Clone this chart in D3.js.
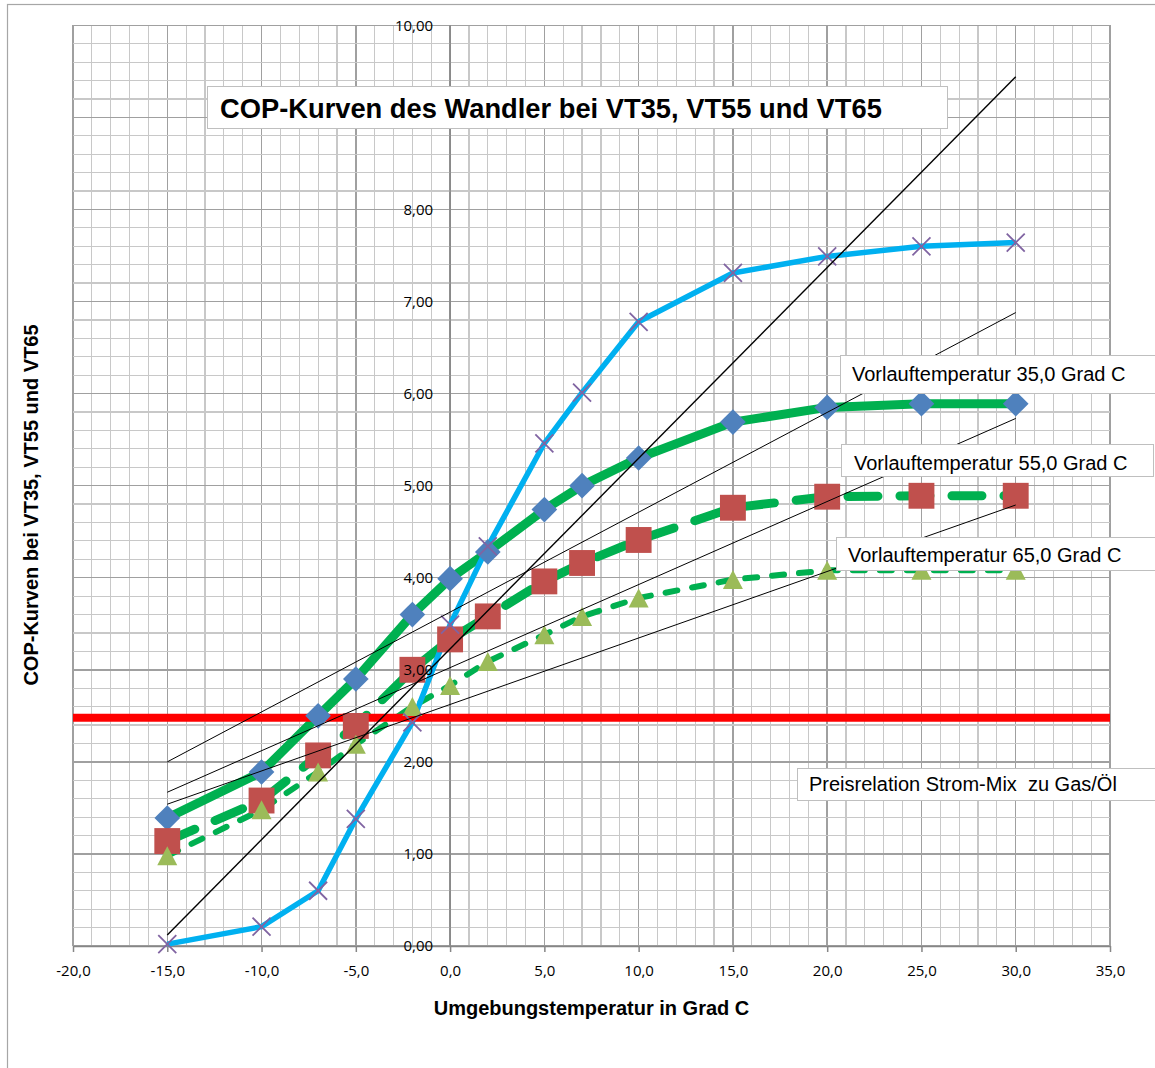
<!DOCTYPE html>
<meta charset="utf-8">
<style>

body {
  margin: 0;
  background: #fff;
}

.box {
  fill: #fff;
  stroke: #bfbfbf;
  stroke-width: 1px;
}

.boxtext {
  font-family: "Liberation Sans", Arial, sans-serif;
  font-size: 20px;
  fill: #000;
  white-space: pre;
}

.axistitle {
  font-family: "Liberation Sans", Arial, sans-serif;
  font-size: 20px;
  font-weight: bold;
}

</style>
<body>
<script src="https://d3js.org/d3.v7.min.js"></script>
<script>

// Umgebungstemperatur (x) und COP-Werte je Kurve
var temps   = [-15, -10, -7, -5, -2, 0, 2, 5, 7, 10, 15, 20, 25, 30];
var copVT35 = [1.39, 1.89, 2.50, 2.90, 3.60, 3.99, 4.28, 4.74, 5.00, 5.30, 5.69, 5.85, 5.89, 5.89];
var copVT55 = [1.14, 1.58, 2.07, 2.39, 3.00, 3.33, 3.58, 3.96, 4.16, 4.41, 4.76, 4.88, 4.89, 4.89];
var copVT65 = [0.98, 1.48, 1.89, 2.19, 2.60, 2.83, 3.09, 3.38, 3.58, 3.78, 3.98, 4.08, 4.08, 4.08];
var copWandler = [0.02, 0.21, 0.60, 1.38, 2.43, 3.49, 4.34, 5.46, 6.01, 6.78, 7.31, 7.49, 7.60, 7.64];

// schwarze Hilfsgeraden, jeweils Wert bei -15 und bei 30 Grad
var trendX = [-15, 30];
var trend1 = [0.12, 9.44];
var trend2 = [2.00, 6.88];
var trend3 = [1.67, 5.73];
var trend4 = [1.54, 4.79];

// Preisrelation (rote Linie)
var preisX = [-20, 35];
var preisRelation = [2.48, 2.48];

var xTicks = [-20, -15, -10, -5, 0, 5, 10, 15, 20, 25, 30, 35];
var yTicks = [0, 1, 2, 3, 4, 5, 6, 7, 8, 10];   // 9,00 liegt unter dem Titelkasten

var chartTitle = "COP-Kurven des Wandler bei VT35, VT55 und VT65";
var xTitle = "Umgebungstemperatur in Grad C";
var yTitle = "COP-Kurven bei VT35, VT55 und VT65";
var labelTexts = ["Vorlauftemperatur 35,0 Grad C",
                  "Vorlauftemperatur 55,0 Grad C",
                  "Vorlauftemperatur 65,0 Grad C",
                  "Preisrelation Strom-Mix  zu Gas/Öl"];

var de = d3.formatLocale({decimal: ",", thousands: ".", grouping: [3], currency: ["", " €"], minus: "-"});
var fmtX = de.format(".1f"),
    fmtY = de.format(".2f");

var width = 1155, height = 1068;

var x = d3.scaleLinear().domain([-20, 35]).range([73, 1110]);
var y = d3.scaleLinear().domain([0, 10]).range([946, 25.3]);

var svg = d3.select("body").append("svg")
    .attr("width", width)
    .attr("height", height);

// Rahmen des Diagrammbereichs
svg.append("rect")
    .attr("x", 7.5).attr("y", 4.5)
    .attr("width", 1170).attr("height", 1080)
    .attr("fill", "#fff")
    .attr("stroke", "#a6a6a6")
    .attr("stroke-width", 1.2);

// Gitternetz
var grid = svg.append("g").attr("shape-rendering", "crispEdges");

grid.selectAll(".vminor")
    .data(d3.range(-20, 36, 1))
  .enter().append("line")
    .attr("x1", function(d) { return x(d); })
    .attr("x2", function(d) { return x(d); })
    .attr("y1", y(0))
    .attr("y2", y(10))
    .attr("stroke", function(d) { return d % 5 === 0 ? "#a0a0a0" : "#c8c8c8"; })
    .attr("stroke-width", function(d) { return d % 5 === 0 ? 1.5 : 1.2; });

grid.selectAll(".hminor")
    .data(d3.range(0, 51, 1))
  .enter().append("line")
    .attr("x1", x(-20))
    .attr("x2", x(35))
    .attr("y1", function(i) { return y(i / 5); })
    .attr("y2", function(i) { return y(i / 5); })
    .attr("stroke", function(i) { return i % 5 === 0 ? "#a0a0a0" : "#c8c8c8"; })
    .attr("stroke-width", function(i) { return i % 5 === 0 ? 1.5 : 1.2; });

// Achsenlinien
svg.append("line")
    .attr("x1", x(0)).attr("x2", x(0))
    .attr("y1", y(0)).attr("y2", y(10))
    .attr("stroke", "#868686")
    .attr("stroke-width", 1.5);

var xAxis = svg.append("g")
    .attr("transform", "translate(0," + y(0) + ")")
    .call(d3.axisBottom(x)
      .tickValues(xTicks)
      .tickSize(6)
      .tickSizeOuter(0)
      .tickPadding(13)
      .tickFormat(fmtX));

xAxis.select(".domain").attr("stroke", "#868686").attr("stroke-width", 1.5);
xAxis.selectAll(".tick line").attr("stroke", "#868686").attr("stroke-width", 1.5);
xAxis.selectAll(".tick text")
    .attr("font-family", "Open Sans, Liberation Sans, sans-serif")
    .attr("font-size", 15)
    .attr("fill", "#000");

// Kurven
var line = d3.line()
    .x(function(d) { return x(d[0]); })
    .y(function(d) { return y(d[1]); });

function pairs(values) {
  return temps.map(function(t, i) { return [t, values[i]]; });
}

svg.append("path")
    .datum(pairs(copVT65))
    .attr("d", line)
    .attr("fill", "none")
    .attr("stroke", "#00b050")
    .attr("stroke-width", 6)
    .attr("stroke-linecap", "round")
    .attr("stroke-dasharray", "12,15");

svg.append("path")
    .datum(pairs(copVT55))
    .attr("d", line)
    .attr("fill", "none")
    .attr("stroke", "#00b050")
    .attr("stroke-width", 9)
    .attr("stroke-linecap", "round")
    .attr("stroke-dasharray", "30,22");

svg.append("path")
    .datum(pairs(copVT35))
    .attr("d", line)
    .attr("fill", "none")
    .attr("stroke", "#00b050")
    .attr("stroke-width", 9)
    .attr("stroke-linejoin", "round");

svg.append("path")
    .datum(pairs(copWandler))
    .attr("d", line)
    .attr("fill", "none")
    .attr("stroke", "#00b0f0")
    .attr("stroke-width", 5.5)
    .attr("stroke-linejoin", "round");

// rote Preislinie
svg.append("path")
    .datum(preisX.map(function(t, i) { return [t, preisRelation[i]]; }))
    .attr("d", line)
    .attr("stroke", "#ff0000")
    .attr("stroke-width", 8);

// Marker
svg.append("g").selectAll("path")
    .data(pairs(copVT35))
  .enter().append("path")
    .attr("transform", function(d) { return "translate(" + x(d[0]) + "," + y(d[1]) + ") rotate(45)"; })
    .attr("d", d3.symbol().type(d3.symbolSquare).size(330))
    .attr("fill", "#4f81bd");

svg.append("g").selectAll("path")
    .data(pairs(copVT55))
  .enter().append("path")
    .attr("transform", function(d) { return "translate(" + x(d[0]) + "," + y(d[1]) + ")"; })
    .attr("d", d3.symbol().type(d3.symbolSquare).size(670))
    .attr("fill", "#c0504d");

svg.append("g").selectAll("path")
    .data(pairs(copVT65))
  .enter().append("path")
    .attr("transform", function(d) { return "translate(" + x(d[0]) + "," + y(d[1]) + ")"; })
    .attr("d", "M0,-9.5L10,9.5L-10,9.5Z")
    .attr("fill", "#9bbb59");

svg.append("g").selectAll("path")
    .data(pairs(copWandler))
  .enter().append("path")
    .attr("transform", function(d) { return "translate(" + x(d[0]) + "," + y(d[1]) + ")"; })
    .attr("d", "M-9,-9L9,9M-9,9L9,-9")
    .attr("fill", "none")
    .attr("stroke", "#8064a2")
    .attr("stroke-width", 1.8);

// Hilfsgeraden
[trend1, trend2, trend3, trend4].forEach(function(vals, k) {
  svg.append("path")
      .datum(trendX.map(function(t, i) { return [t, vals[i]]; }))
      .attr("d", line)
      .attr("fill", "none")
      .attr("stroke", "#000")
      .attr("stroke-width", k === 0 ? 1.4 : 1);
});

// y-Achse Beschriftung (über den Kurven)
var yAxis = svg.append("g")
    .attr("transform", "translate(" + x(0) + ",0)")
    .call(d3.axisLeft(y)
      .tickValues(yTicks)
      .tickSize(0)
      .tickPadding(17)
      .tickFormat(fmtY));
yAxis.select(".domain").remove();
yAxis.selectAll(".tick text")
    .attr("font-family", "Open Sans, Liberation Sans, sans-serif")
    .attr("font-size", 15)
    .attr("fill", "#000");

// Titel
svg.append("rect").attr("class", "box")
    .attr("x", 207.5).attr("y", 86.5).attr("width", 740).attr("height", 42);
svg.append("text")
    .attr("x", 220).attr("y", 118)
    .attr("font-family", "Liberation Sans, Arial, sans-serif")
    .attr("font-size", 27.3)
    .attr("font-weight", "bold")
    .text(chartTitle);

// Achsentitel
svg.append("text").attr("class", "axistitle")
    .attr("x", (x(-20) + x(35)) / 2)
    .attr("y", 1015)
    .attr("text-anchor", "middle")
    .text(xTitle);

svg.append("text").attr("class", "axistitle")
    .attr("transform", "translate(38,505) rotate(-90)")
    .attr("text-anchor", "middle")
    .text(yTitle);

// Beschriftungskästen
var boxes = [
  {x: 840.5, y: 355.5, w: 320, h: 38, tx: 852, ty: 381},
  {x: 841.5, y: 444.5, w: 312, h: 32, tx: 854, ty: 470},
  {x: 836.5, y: 537.5, w: 325, h: 33, tx: 848, ty: 562},
  {x: 797.5, y: 768.5, w: 365, h: 32, tx: 809, ty: 791}
];

boxes.forEach(function(b, i) {
  svg.append("rect").attr("class", "box")
      .attr("x", b.x).attr("y", b.y).attr("width", b.w).attr("height", b.h);
  svg.append("text").attr("class", "boxtext")
      .attr("x", b.tx).attr("y", b.ty)
      .text(labelTexts[i]);
});

</script>
</body>
